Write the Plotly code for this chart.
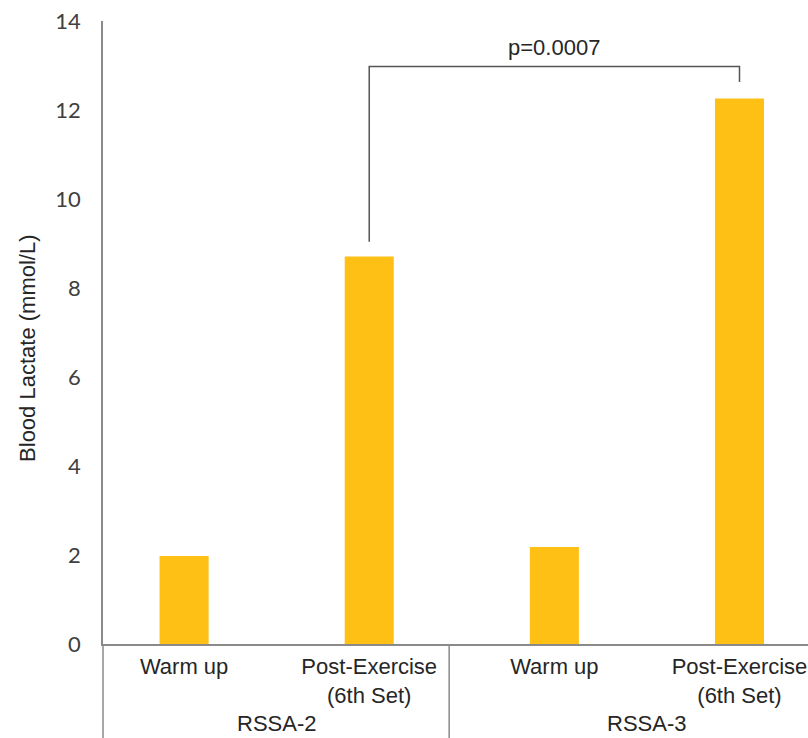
import plotly.graph_objects as go

# ---- data ----
groups = ["RSSA-2", "RSSA-2", "RSSA-3", "RSSA-3"]
phases = ["Warm up", "Post-Exercise<br>(6th Set)", "Warm up", "Post-Exercise<br>(6th Set)"]
lactate = [1.98, 8.71, 2.18, 12.26]
p_label = "p=0.0007"
y_title = "Blood Lactate (mmol/L)"
y_ticks = [0, 2, 4, 6, 8, 10, 12, 14]

BAR = "#FEC014"
AXIS = "#8a8a8a"
BRACKET = "#555555"
TXT = "#262626"
FS = 22

xpos = list(range(len(phases)))

fig = go.Figure(go.Bar(
    x=xpos, y=lactate, width=0.265,
    marker=dict(color=BAR, line=dict(width=0)),
    hoverinfo="y",
))

shapes = []
annotations = []
uniq = []
for g in groups:
    if g not in uniq:
        uniq.append(g)
for g in uniq:
    members = [i for i, gg in enumerate(groups) if gg == g]
    annotations.append(dict(
        x=sum(members) / len(members), y=-0.128, xref="x", yref="paper",
        text=g, showarrow=False, xanchor="center", yanchor="middle",
        font=dict(family="Liberation Sans, Arial", size=FS, color=TXT),
    ))

# y-axis title
annotations.append(dict(
    x=-0.108, y=0.475, xref="paper", yref="paper", text=y_title, textangle=-90,
    showarrow=False, xanchor="center", yanchor="middle",
    font=dict(family="Liberation Sans, Arial", size=FS, color=TXT),
))

# axis extensions / group divider
shapes.append(dict(type="line", xref="paper", yref="paper", x0=0, x1=0, y0=0, y1=-0.16,
                   line=dict(color=AXIS, width=1.5)))
shapes.append(dict(type="line", xref="paper", yref="paper", x0=0.491, x1=0.491, y0=0, y1=-0.16,
                   line=dict(color=AXIS, width=1.5)))

# significance bracket between bar 1 and bar 3
a, b = 1, 3
top = max(lactate[a], lactate[b]) + 0.72
shapes.append(dict(type="path", xref="x", yref="y",
                   path=f"M {a},{lactate[a] + 0.33} L {a},{top} L {b},{top} L {b},{lactate[b] + 0.37}",
                   line=dict(color=BRACKET, width=1.5)))
annotations.append(dict(x=(a + b) / 2, y=top + 0.42, xref="x", yref="y", text=p_label,
                        showarrow=False, xanchor="center", yanchor="middle",
                        font=dict(family="Liberation Sans, Arial", size=FS, color=TXT)))

fig.update_layout(
    width=808, height=738,
    margin=dict(l=103, r=0, t=21, b=94),
    paper_bgcolor="white", plot_bgcolor="white",
    showlegend=False,
    shapes=shapes, annotations=annotations,
    xaxis=dict(
        tickmode="array", tickvals=xpos, ticktext=phases,
        range=[-0.438, 3.37],
        showline=True, linecolor=AXIS, linewidth=1.5,
        showgrid=False, zeroline=False, ticks="",
        tickfont=dict(family="Liberation Sans, Arial", size=FS, color=TXT),
        ticklabelstandoff=2,
    ),
    yaxis=dict(
        range=[0, 14], tickvals=y_ticks,
        showline=True, linecolor=AXIS, linewidth=1.5,
        showgrid=False, zeroline=False, ticks="",
        tickfont=dict(family="Lato, Open Sans, sans-serif", size=FS, color="#404040"),
        ticklabelstandoff=16,
    ),
)

fig.write_html("out.html")
